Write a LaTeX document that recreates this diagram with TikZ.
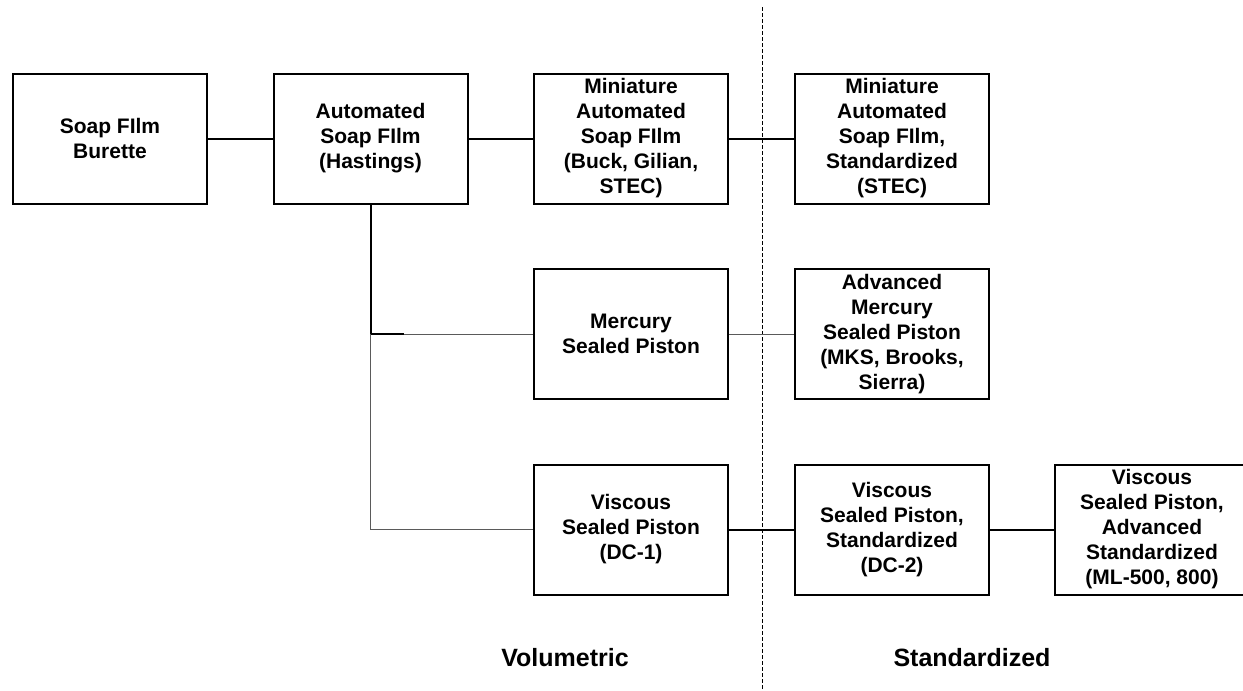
\documentclass[tikz,border=0pt]{standalone}
\usepackage{fontspec}
\setmainfont{Liberation Sans}
\usetikzlibrary{calc}
\definecolor{figline}{RGB}{0,0,0}
\definecolor{figthin}{RGB}{90,90,90}
\tikzset{
  blk/.style  ={draw=figline, line width=1pt, minimum width=97pt, minimum height=65pt,
                align=center, inner sep=1pt, font=\fontsize{10.5}{12.5}\selectfont\bfseries},
  lnk/.style  ={draw=figline, line width=1pt},
  lnt/.style  ={draw=figthin, line width=0.5pt},
  sep/.style  ={draw=figline, line width=0.5pt, dash pattern=on 2pt off 1pt},
  grp/.style  ={font=\fontsize{12.5}{15}\selectfont\bfseries, inner sep=1pt},
}

\begin{document}
\begin{tikzpicture}[x=0.5pt,y=-0.5pt]
  \useasboundingbox (0,0) rectangle (1243,691);
  \clip (0,0) rectangle (1243,691);
  % volumetric / standardized divider
  \coordinate (septop) at (762,7);
  \coordinate (sepbot) at (762,691);
  \draw[sep] (septop) -- (sepbot);
  % top row
  \node[blk] (burette)   at (110,138.5) {Soap FIlm\\Burette};
  \node[blk] (autosoap)  at (370.5,138.5) {Automated\\Soap FIlm\\(Hastings)};
  \node[blk] (minisoap)  at (631,138.5) {Miniature\\Automated\\Soap FIlm\\(Buck, Gilian,\\STEC)};
  \node[blk] (ministd)   at (892,138.5) {Miniature\\Automated\\Soap FIlm,\\Standardized\\(STEC)};
  % middle row
  \node[blk] (mercury)   at (631,334) {Mercury\\Sealed Piston};
  \node[blk] (advmerc)   at (892,334) {Advanced\\Mercury\\Sealed Piston\\(MKS, Brooks,\\Sierra)};
  % bottom row
  \node[blk] (viscous)   at (631,529.5) {Viscous\\Sealed Piston\\(DC-1)};
  \node[blk] (viscstd)   at (892,529.5) {Viscous\\Sealed Piston,\\Standardized\\(DC-2)};
  \node[blk] (viscadv)   at (1152,529.5) {Viscous\\Sealed Piston,\\Advanced\\Standardized\\(ML-500, 800)};
  % group labels
  \node[grp] (volum)  at (565,658) {Volumetric};
  \node[grp] (stdlab) at (972,658) {Standardized};
  % connectors
  \draw[lnk] (burette) -- (autosoap);
  \draw[lnk] (autosoap) -- (minisoap);
  \draw[lnk] (minisoap) -- (ministd);
  \coordinate (jmerc) at (autosoap.south |- mercury.west);
  \coordinate (jstub) at ($(jmerc)+(33,0)$);
  \coordinate (jvisc) at (autosoap.south |- viscous.west);
  \draw[lnk] (autosoap.south) -- (jmerc) -- (jstub);
  \draw[lnt] (jstub) -- (mercury.west);
  \draw[lnt] (jmerc) -- (jvisc) -- (viscous.west);
  \draw[lnt] (mercury) -- (advmerc);
  \draw[lnk] (viscous) -- (viscstd);
  \draw[lnk] (viscstd) -- (viscadv);
\end{tikzpicture}
\end{document}
